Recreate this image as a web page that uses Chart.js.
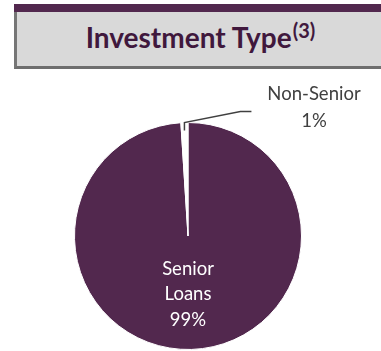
<!DOCTYPE html>
<html>
<head>
<meta charset="utf-8">
<script src="https://cdn.jsdelivr.net/npm/chart.js@4/dist/chart.umd.min.js"></script>
<style>
  html, body { margin: 0; padding: 0; background: #fff; }
  body { width: 381px; height: 351px; position: relative; overflow: hidden; font-family: Lato, "Open Sans", sans-serif; }
  .topbar { position: absolute; left: 14px; top: 4px; width: 367px; height: 8px; background: #52284e; }
  .header { position: absolute; left: 14px; top: 12px; width: 367px; height: 54px; background: #d9d9d9;
            border-left: 3px solid #767676; border-bottom: 3px solid #6e6e6e; box-sizing: content-box; }
  .header h1 { margin: 0; font-size: 28px; line-height: 54px; text-align: center; color: #40183d; font-weight: 700;
               padding-left: 0; position: relative; top: -2px; }
  .header sup { font-size: 20px; vertical-align: 10px; line-height: 0; margin-left: 1px; }
  #pie { position: absolute; left: 0; top: 0; }
</style>
</head>
<body>
<div class="topbar"></div>
<div class="header"><h1>Investment Type<sup>(3)</sup></h1></div>
<canvas id="pie" width="381" height="351"></canvas>
<script>
// Portfolio split by investment type
const categories = ['Senior Loans', 'Non-Senior'];
const shares = [99, 1];
const sliceColors = ['#52284e', '#ffffff'];

// Writes the category / percentage labels and the leader line for the thin slice
const sliceLabels = {
  id: 'sliceLabels',
  afterDatasetsDraw(chart) {
    const { ctx } = chart;
    const arcs = chart.getDatasetMeta(0).data;
    const big = arcs[0];
    const small = arcs[1];
    ctx.save();
    ctx.textAlign = 'center';
    ctx.textBaseline = 'middle';

    // inside label for the large slice
    ctx.fillStyle = '#ffffff';
    ctx.font = '18.5px Lato, "Open Sans", sans-serif';
    const cx = big.x, r = big.outerRadius;
    const words = ['Senior', 'Loans', shares[0] + '%'];
    words.forEach((w, i) => ctx.fillText(w, cx, big.y + r * 0.29 + i * 25.5));

    // leader line from the small slice to its outside label
    const mid = (small.startAngle + small.endAngle) / 2;
    const sx = small.x + Math.cos(mid) * small.outerRadius;
    const sy = small.y + Math.sin(mid) * small.outerRadius;
    ctx.strokeStyle = '#404040';
    ctx.lineWidth = 1.5;
    ctx.beginPath();
    ctx.moveTo(sx, sy + 8);
    ctx.lineTo(sx, sy);
    ctx.lineTo(sx + 56, sy - 11);
    ctx.lineTo(sx + 67, sy - 11);
    ctx.stroke();

    ctx.fillStyle = '#404040';
    ctx.font = '18.5px Lato, "Open Sans", sans-serif';
    ctx.fillText(categories[1], 314, 94);
    ctx.fillText(shares[1] + '%', 314, 121);
    ctx.restore();
  }
};

new Chart(document.getElementById('pie'), {
  type: 'pie',
  data: {
    labels: categories,
    datasets: [{
      data: shares,
      backgroundColor: sliceColors,
      borderColor: '#ffffff',
      borderWidth: 1
    }]
  },
  options: {
    responsive: false,
    animation: false,
    layout: { padding: { top: 122, bottom: 1, left: 74, right: 79 } },
    plugins: {
      legend: { display: false },
      tooltip: { enabled: false }
    }
  },
  plugins: [sliceLabels]
});
</script>
</body>
</html>
